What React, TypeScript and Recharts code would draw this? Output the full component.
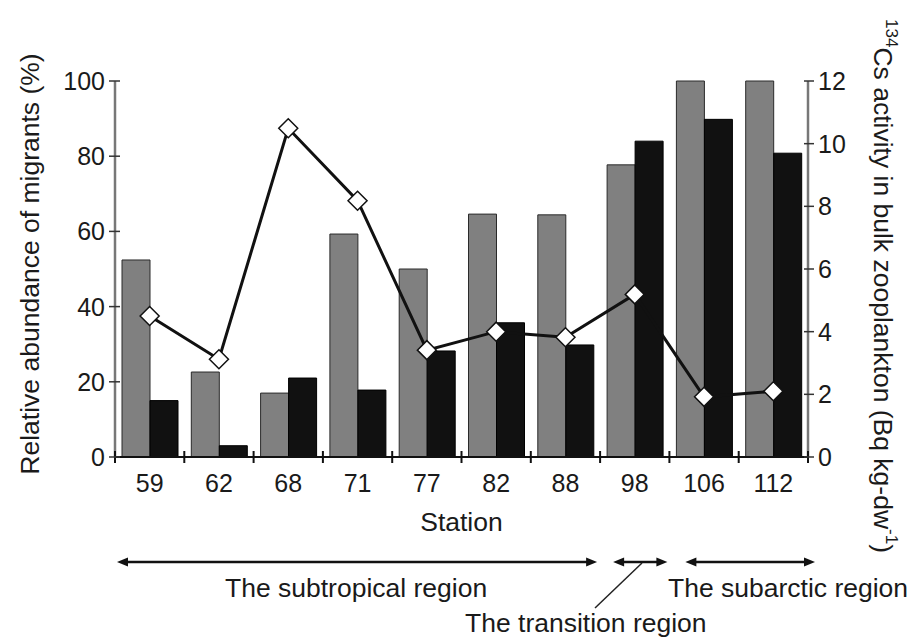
import { Bar, ComposedChart, Line, XAxis, YAxis } from "recharts";

const stations = ["59", "62", "68", "71", "77", "82", "88", "98", "106", "112"];
const migrants = [52.4, 22.6, 17, 59.3, 50, 64.6, 64.4, 77.7, 100, 100];
const blackBars = [15, 3, 21, 17.8, 28.2, 35.7, 29.8, 84, 89.8, 80.8];
const cs134 = [4.5, 3.12, 10.49, 8.18, 3.41, 4.0, 3.82, 5.19, 1.92, 2.1];
const leftTicks = [0, 20, 40, 60, 80, 100];
const rightTicks = [0, 2, 4, 6, 8, 10, 12];

const data = stations.map((s, i) => ({
  station: s,
  migrants: migrants[i],
  other: blackBars[i],
  cs: cs134[i],
}));

const W = 911;
const H = 640;
const PLOT_LEFT = 115;
const PLOT_RIGHT = 808;
const PLOT_TOP = 81;
const PLOT_BOTTOM = 457;
const AXIS_W = 60;
const XAXIS_H = 40;
const BAND = (PLOT_RIGHT - PLOT_LEFT) / stations.length;
const FONT = "'Liberation Sans', Arial, sans-serif";
const TEXT = "#1a1a1a";
const TICK_FS = 25;
const LABEL_FS = 26.5;

function LeftTick({ y, payload }: any) {
  return (
    <g>
      <line x1={PLOT_LEFT - 6} x2={PLOT_LEFT + 5} y1={y} y2={y} stroke="#333" strokeWidth={1.5} />
      <text x={PLOT_LEFT - 10} y={y} dy={9} textAnchor="end" fontSize={TICK_FS} fontFamily={FONT} fill={TEXT}>
        {payload.value}
      </text>
    </g>
  );
}

function RightTick({ y, payload }: any) {
  return (
    <g>
      <line x1={PLOT_RIGHT - 4} x2={PLOT_RIGHT + 6} y1={y} y2={y} stroke="#333" strokeWidth={1.5} />
      <text x={PLOT_RIGHT + 10} y={y} dy={9} textAnchor="start" fontSize={TICK_FS} fontFamily={FONT} fill={TEXT}>
        {payload.value}
      </text>
    </g>
  );
}

function BottomTick({ x, payload, index }: any) {
  const left = x - BAND / 2;
  const right = x + BAND / 2;
  return (
    <g>
      <line x1={left} x2={left} y1={PLOT_BOTTOM - 6} y2={PLOT_BOTTOM + 6} stroke="#111" strokeWidth={2} />
      {index === stations.length - 1 && (
        <line x1={right} x2={right} y1={PLOT_BOTTOM - 6} y2={PLOT_BOTTOM + 6} stroke="#111" strokeWidth={2} />
      )}
      <text x={x} y={PLOT_BOTTOM + 35} textAnchor="middle" fontSize={TICK_FS} fontFamily={FONT} fill={TEXT}>
        {payload.value}
      </text>
    </g>
  );
}

function Diamond({ cx, cy }: any) {
  if (cx == null || cy == null) return null;
  const r = 9.5;
  return (
    <polygon
      points={`${cx},${cy - r} ${cx + r},${cy} ${cx},${cy + r} ${cx - r},${cy}`}
      fill="#fff"
      stroke="#111"
      strokeWidth={1.5}
    />
  );
}

function Arrow({ x1, x2, y }: { x1: number; x2: number; y: number }) {
  const L = 11;
  const h = 4.5;
  return (
    <g>
      <line x1={x1 + L - 2} x2={x2 - L + 2} y1={y} y2={y} stroke="#111" strokeWidth={2.5} />
      <polygon points={`${x1},${y} ${x1 + L},${y - h} ${x1 + L},${y + h}`} fill="#111" />
      <polygon points={`${x2},${y} ${x2 - L},${y - h} ${x2 - L},${y + h}`} fill="#111" />
    </g>
  );
}

export default function App() {
  const arrowY = 562;
  const b7 = PLOT_LEFT + BAND * 7;
  const b8 = PLOT_LEFT + BAND * 8;
  return (
    <div style={{ position: "absolute", left: 0, top: 0, width: W, height: H, background: "#fff" }}>
      <ComposedChart
        width={W}
        height={H}
        data={data}
        margin={{
          top: PLOT_TOP,
          right: W - PLOT_RIGHT - AXIS_W,
          bottom: H - PLOT_BOTTOM - XAXIS_H,
          left: PLOT_LEFT - AXIS_W,
        }}
        barGap={0}
      >
        <XAxis
          dataKey="station"
          height={XAXIS_H}
          axisLine={{ stroke: "#111", strokeWidth: 2 }}
          tickLine={false}
          tick={<BottomTick />}
          interval={0}
        />
        <YAxis
          yAxisId="left"
          width={AXIS_W}
          domain={[0, 100]}
          ticks={leftTicks}
          axisLine={{ stroke: "#777", strokeWidth: 2.5 }}
          tickLine={false}
          tick={<LeftTick />}
        />
        <YAxis
          yAxisId="right"
          orientation="right"
          width={AXIS_W}
          domain={[0, 12]}
          ticks={rightTicks}
          axisLine={{ stroke: "#777", strokeWidth: 2.5 }}
          tickLine={false}
          tick={<RightTick />}
        />
        <Bar yAxisId="left" dataKey="migrants" barSize={28} fill="#808080" stroke="#2a2a2a" strokeWidth={1} isAnimationActive={false} />
        <Bar yAxisId="left" dataKey="other" barSize={28} fill="#111" stroke="#000" strokeWidth={1} isAnimationActive={false} />
        <Line
          yAxisId="right"
          dataKey="cs"
          stroke="#111"
          strokeWidth={3}
          dot={<Diamond />}
          activeDot={false}
          isAnimationActive={false}
        />
      </ComposedChart>
      <svg
        width={W}
        height={H}
        style={{ position: "absolute", left: 0, top: 0, pointerEvents: "none" }}
        fontFamily={FONT}
      >
        <text
          x={30}
          y={264}
          transform="rotate(-90 30 264)"
          textAnchor="middle"
          dominantBaseline="central"
          fontSize={LABEL_FS}
          fill={TEXT}
        >
          Relative abundance of migrants (%)
        </text>
        <text
          x={883}
          y={286}
          transform="rotate(90 883 286)"
          textAnchor="middle"
          dominantBaseline="central"
          fontSize={LABEL_FS}
          fill={TEXT}
        >
          <tspan fontSize={17} dy={-9}>134</tspan>
          <tspan dy={9}>Cs activity in bulk zooplankton (Bq kg-dw</tspan>
          <tspan fontSize={17} dy={-9}>-1</tspan>
          <tspan dy={9}>)</tspan>
        </text>
        <text x={(PLOT_LEFT + PLOT_RIGHT) / 2} y={531} textAnchor="middle" fontSize={LABEL_FS} fill={TEXT}>
          Station
        </text>
        <Arrow x1={PLOT_LEFT + 2} x2={b7 - 3} y={arrowY} />
        <Arrow x1={b7 + 13} x2={b8 - 2} y={arrowY} />
        <Arrow x1={b8 + 16} x2={PLOT_RIGHT + 7} y={arrowY} />
        <line x1={642} y1={arrowY + 1} x2={595} y2={608} stroke="#222" strokeWidth={1.5} />
        <text x={225} y={597} fontSize={LABEL_FS} fill={TEXT}>
          The subtropical region
        </text>
        <text x={668} y={597} fontSize={LABEL_FS} fill={TEXT}>
          The subarctic region
        </text>
        <text x={465} y={632} fontSize={LABEL_FS} fill={TEXT}>
          The transition region
        </text>
      </svg>
    </div>
  );
}
